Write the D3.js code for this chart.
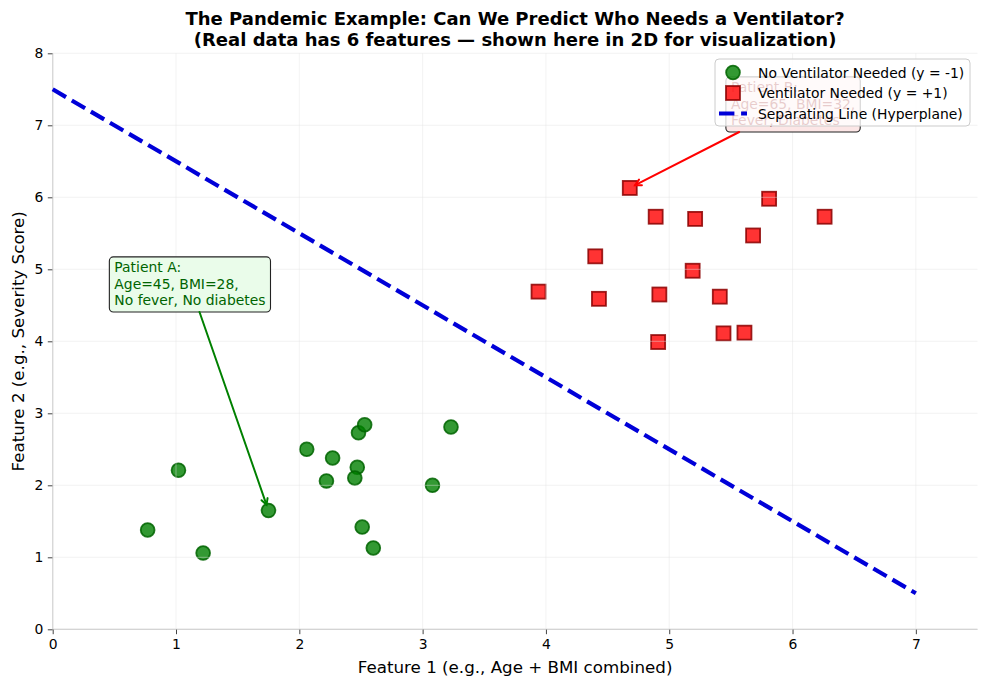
<!DOCTYPE html>
<html>
<head>
<meta charset="utf-8">
<script src="https://cdn.jsdelivr.net/npm/d3@7/dist/d3.min.js"></script>
<style>
  html, body { margin: 0; padding: 0; background: #fff; }
  svg { display: block; font-family: "DejaVu Sans", sans-serif; }
</style>
</head>
<body>
<svg id="chart" width="987" height="686"></svg>
<script>
// ---------------- DATA ----------------
const titleLines = [
  "The Pandemic Example: Can We Predict Who Needs a Ventilator?",
  "(Real data has 6 features \u2014 shown here in 2D for visualization)"
];
const xLabel = "Feature 1 (e.g., Age + BMI combined)";
const yLabel = "Feature 2 (e.g., Severity Score)";
const xTicks = [0, 1, 2, 3, 4, 5, 6, 7];
const yTicks = [0, 1, 2, 3, 4, 5, 6, 7, 8];
const xDomain = [0, 7.5];
const yDomain = [0, 8];

// Class -1 : no ventilator needed
const noVentX = [0.77, 1.02, 1.22, 1.75, 2.06, 2.27, 2.22, 2.47, 2.45, 2.48, 2.53, 2.51, 2.60, 3.08, 3.23];
const noVentY = [1.38, 2.21, 1.06, 1.65, 2.50, 2.38, 2.06, 2.25, 2.10, 2.73, 2.84, 1.42, 1.13, 2.00, 2.81];
// Class +1 : ventilator needed
const ventX = [4.68, 4.89, 5.21, 5.81, 6.26, 5.68, 4.40, 5.19, 3.94, 4.43, 4.92, 5.41, 4.91, 5.44, 5.61];
const ventY = [6.13, 5.73, 5.70, 5.98, 5.73, 5.47, 5.18, 4.98, 4.69, 4.59, 4.65, 4.62, 3.99, 4.11, 4.12];
// Separating line (hyperplane)
const hyperX = [0, 7];
const hyperY = [7.5, 0.5];

const legendLabels = [
  "No Ventilator Needed (y = -1)",
  "Ventilator Needed (y = +1)",
  "Separating Line (Hyperplane)"
];

// Annotations
const annLines = [
  ["Patient A:", "Age=45, BMI=28,", "No fever, No diabetes"],
  ["Patient B:", "Age=65, BMI=32,", "Fever, Diabetes"]
];
const annTarget = [[1.75, 1.65], [4.68, 6.13]];
const annText = [[0.5, 4.5], [5.5, 7.0]];

// ---------------- LAYOUT ----------------
const svg = d3.select("#chart");
const L = 52.7, R = 977.5, T = 53.3, B = 629.3;
const x = d3.scaleLinear().domain(xDomain).range([L, R]);
const y = d3.scaleLinear().domain(yDomain).range([B, T]);

const C = {
  green: "#008000", greenEdge: "#006400",
  red: "#ff0000", redEdge: "#8b0000",
  blue: "#0000d8"
};

// Title
svg.append("g").selectAll("text").data(titleLines).join("text")
  .attr("x", (L + R) / 2)
  .attr("y", (d, i) => 24.5 + i * 21)
  .attr("text-anchor", "middle")
  .attr("font-size", 18)
  .attr("font-weight", "bold")
  .attr("fill", "#000")
  .text(d => d);

// Spines (left & bottom)
svg.append("line").attr("x1", L).attr("x2", L).attr("y1", T).attr("y2", B)
  .attr("stroke", "#cccccc").attr("stroke-width", 1.2);
svg.append("line").attr("x1", L).attr("x2", R).attr("y1", B).attr("y2", B)
  .attr("stroke", "#cccccc").attr("stroke-width", 1.2);

// Axes
const xAxis = d3.axisBottom(x).tickValues(xTicks).tickFormat(d3.format("d")).tickSize(4.9).tickPadding(4.5);
const yAxis = d3.axisLeft(y).tickValues(yTicks).tickFormat(d3.format("d")).tickSize(4.9).tickPadding(4.5);
const gx = svg.append("g").attr("transform", `translate(0,${B})`).call(xAxis);
const gy = svg.append("g").attr("transform", `translate(${L},0)`).call(yAxis);
[gx, gy].forEach(g => {
  g.select(".domain").remove();
  g.selectAll(".tick line").attr("stroke", "#444").attr("stroke-width", 1);
  g.selectAll(".tick text").attr("font-size", 13.9).attr("fill", "#000")
    .attr("font-family", "DejaVu Sans, sans-serif");
});

// Axis labels
svg.append("text").attr("x", (L + R) / 2).attr("y", 673)
  .attr("text-anchor", "middle").attr("font-size", 16.7).attr("fill", "#000").text(xLabel);
svg.append("text").attr("transform", `translate(24,${(T + B) / 2}) rotate(-90)`)
  .attr("text-anchor", "middle").attr("font-size", 16.7).attr("fill", "#000").text(yLabel);

// Scatter: green circles
const noVent = noVentX.map((v, i) => ({ x: v, y: noVentY[i] }));
const vent = ventX.map((v, i) => ({ x: v, y: ventY[i] }));

svg.append("g").selectAll("circle").data(noVent).join("circle")
  .attr("cx", d => x(d.x)).attr("cy", d => y(d.y)).attr("r", 6.9)
  .attr("fill", C.green).attr("fill-opacity", 0.8)
  .attr("stroke", C.greenEdge).attr("stroke-width", 1.8).attr("stroke-opacity", 0.85);

const sq = 14;
svg.append("g").selectAll("rect").data(vent).join("rect")
  .attr("x", d => x(d.x) - sq / 2).attr("y", d => y(d.y) - sq / 2)
  .attr("width", sq).attr("height", sq)
  .attr("fill", C.red).attr("fill-opacity", 0.8)
  .attr("stroke", C.redEdge).attr("stroke-width", 1.8).attr("stroke-opacity", 0.85);

// Grid (drawn above scatter, below lines)
const grid = svg.append("g").attr("stroke", "#e4e4e4").attr("stroke-opacity", 0.5).attr("stroke-width", 0.9);
grid.selectAll("line.gx").data(xTicks).join("line").attr("class", "gx")
  .attr("x1", d => x(d)).attr("x2", d => x(d)).attr("y1", T).attr("y2", B);
grid.selectAll("line.gy").data(yTicks).join("line").attr("class", "gy")
  .attr("x1", L).attr("x2", R).attr("y1", d => y(d)).attr("y2", d => y(d));

// Hyperplane
const lineGen = d3.line().x(d => x(d[0])).y(d => y(d[1]));
svg.append("path").datum(hyperX.map((v, i) => [v, hyperY[i]]))
  .attr("d", lineGen).attr("fill", "none")
  .attr("stroke", C.blue).attr("stroke-width", 4.2)
  .attr("stroke-dasharray", "15.4,6.7");

// Annotations
const annStyle = [
  { text: "#006400", face: "#eafcea", arrow: "#008000" },
  { text: "#8b0000", face: "#fce6e6", arrow: "#ff0000" }
];
const fs = 13.9, lh = 16.7, pad = 5;
annLines.forEach((lines, k) => {
  const g = svg.append("g");
  const tx = x(annText[k][0]), tyLast = y(annText[k][1]);
  const n = lines.length;
  const rect = g.append("rect");
  const txt = g.append("g");
  let w = 0;
  lines.forEach((s, i) => {
    const t = txt.append("text").attr("x", tx).attr("y", tyLast - (n - 1 - i) * lh)
      .attr("font-size", fs).attr("fill", annStyle[k].text).text(s);
    w = Math.max(w, t.node().getComputedTextLength());
  });
  const bx0 = tx - pad, bx1 = tx + w + pad;
  const by0 = tyLast - (n - 1) * lh - 15, by1 = tyLast + 6.7;
  rect.attr("x", bx0).attr("y", by0).attr("width", bx1 - bx0).attr("height", by1 - by0)
    .attr("rx", 4).attr("ry", 4)
    .attr("fill", annStyle[k].face).attr("stroke", "#222").attr("stroke-width", 1.1);

  // arrow from box edge toward target
  const cx = (bx0 + bx1) / 2, cy = (by0 + by1) / 2;
  const px = x(annTarget[k][0]), py = y(annTarget[k][1]);
  const dx = px - cx, dy = py - cy;
  const tX = dx !== 0 ? ((dx > 0 ? bx1 : bx0) - cx) / dx : Infinity;
  const tY = dy !== 0 ? ((dy > 0 ? by1 : by0) - cy) / dy : Infinity;
  const tt = Math.min(tX, tY);
  const sx = cx + dx * tt, sy = cy + dy * tt;
  const len = Math.hypot(px - sx, py - sy);
  const ux = (px - sx) / len, uy = (py - sy) / len;
  const ex = px - ux * 6, ey = py - uy * 6;
  const ag = svg.append("g").attr("stroke", annStyle[k].arrow).attr("stroke-width", 2)
    .attr("fill", "none").attr("stroke-linecap", "round");
  ag.append("line").attr("x1", sx).attr("y1", sy).attr("x2", ex).attr("y2", ey);
  const hl = 6, hw = 3.2;
  const bxp = ex - ux * hl, byp = ey - uy * hl;
  ag.append("path").attr("d",
    `M${bxp - uy * hw},${byp + ux * hw}L${ex},${ey}L${bxp + uy * hw},${byp - ux * hw}`)
    .attr("stroke-linejoin", "miter");
});

// Legend
const lg = svg.append("g");
const lgX0 = 715, lgY0 = 59, lgW = 255, lgH = 67;
lg.append("rect").attr("x", lgX0).attr("y", lgY0).attr("width", lgW).attr("height", lgH)
  .attr("rx", 4).attr("ry", 4)
  .attr("fill", "#fff").attr("fill-opacity", 0.8)
  .attr("stroke", "#cccccc").attr("stroke-width", 1);
const rowY = [72.5, 93, 113.5];
const hx = 733;
lg.append("circle").attr("cx", hx).attr("cy", rowY[0]).attr("r", 6.9)
  .attr("fill", C.green).attr("fill-opacity", 0.8)
  .attr("stroke", C.greenEdge).attr("stroke-width", 1.8).attr("stroke-opacity", 0.85);
lg.append("rect").attr("x", hx - sq / 2).attr("y", rowY[1] - sq / 2).attr("width", sq).attr("height", sq)
  .attr("fill", C.red).attr("fill-opacity", 0.8)
  .attr("stroke", C.redEdge).attr("stroke-width", 1.8).attr("stroke-opacity", 0.85);
lg.append("line").attr("x1", 719).attr("x2", 747).attr("y1", rowY[2]).attr("y2", rowY[2])
  .attr("stroke", C.blue).attr("stroke-width", 4.2).attr("stroke-dasharray", "15.4,6.7");
lg.selectAll("text").data(legendLabels).join("text")
  .attr("x", 758).attr("y", (d, i) => rowY[i] + 5)
  .attr("font-size", 13.9).attr("fill", "#000").text(d => d);
</script>
</body>
</html>
